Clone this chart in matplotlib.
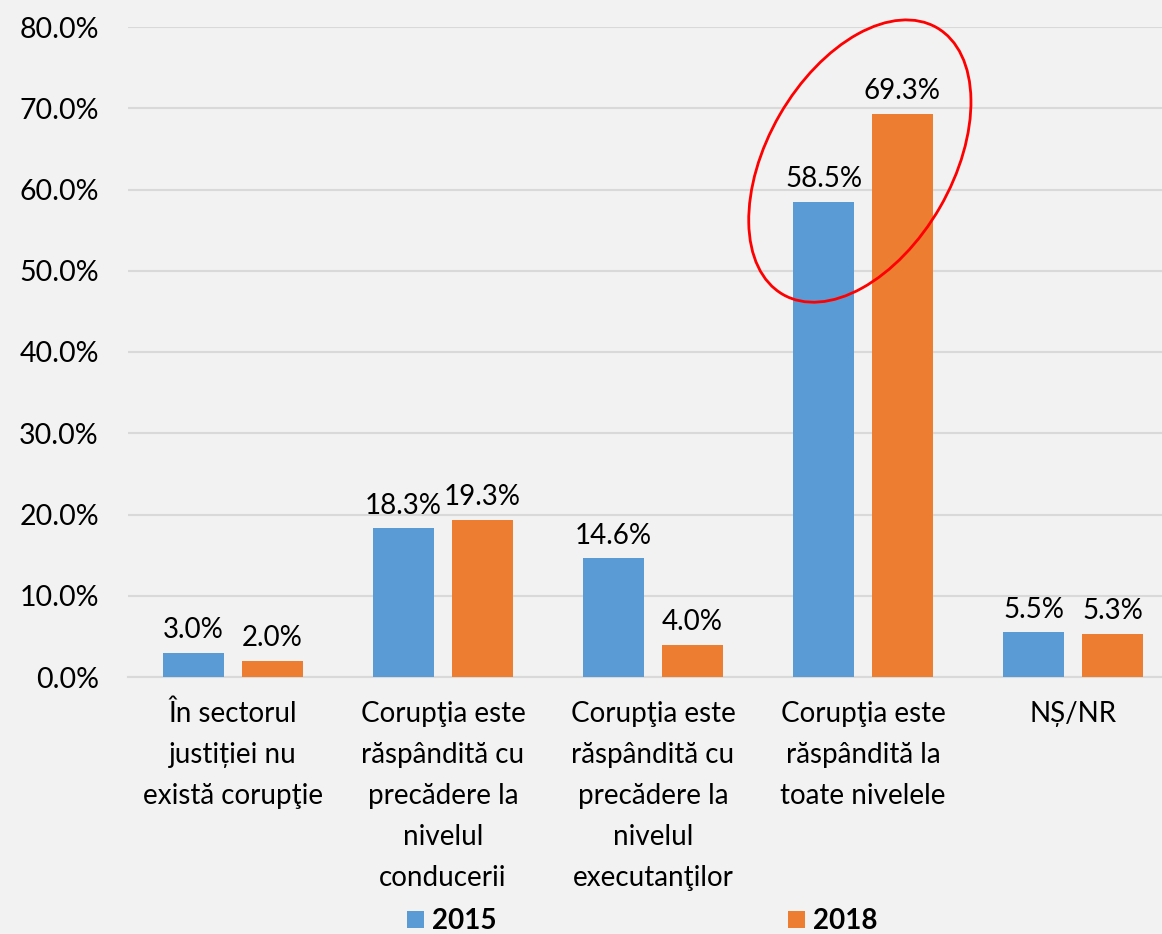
import numpy as np
import matplotlib.pyplot as plt
from matplotlib.patches import Ellipse
from matplotlib.transforms import ScaledTranslation

plt.rcParams['font.family'] = ['Lato', 'DejaVu Sans']

categorii = ['În sectorul\njustiției nu\nexistă corupţie',
             'Corupţia este\nrăspândită cu\nprecădere la\nnivelul\nconducerii',
             'Corupţia este\nrăspândită cu\nprecădere la\nnivelul\nexecutanţilor',
             'Corupţia este\nrăspândită la\ntoate nivelele',
             'NȘ/NR']
v2015 = [3.0, 18.3, 14.6, 58.5, 5.5]
v2018 = [2.0, 19.3, 4.0, 69.3, 5.3]
ani = ['2015', '2018']
culori = ['#5B9BD5', '#ED7D31']
bg = '#F2F2F2'

fig = plt.figure(figsize=(11.62, 9.34), dpi=100, facecolor=bg)
ax = fig.add_axes([128/1162, 257/934, 1050/1162, 650/934], facecolor=bg)

x = np.arange(len(categorii))
w = 0.295
off = 0.188
b1 = ax.bar(x - off, v2015, w, color=culori[0], label=ani[0], zorder=3)
b2 = ax.bar(x + off, v2018, w, color=culori[1], label=ani[1], zorder=3)
for bars in (b1, b2):
    ax.bar_label(bars, labels=[f'{v:.1f}%' for v in bars.datavalues],
                 padding=7, fontsize=20)

ax.set_xlim(-0.5, len(categorii) - 0.5)
ax.set_ylim(0, 80)
ax.set_yticks(np.arange(0, 81, 10))
ax.set_yticklabels([f'{t:.1f}%' for t in np.arange(0, 81, 10)], fontsize=20.5)
ax.set_xticks(x)
ax.set_xticklabels(categorii, fontsize=20, linespacing=1.72, va='top')
ax.tick_params(axis='both', length=0)
ax.tick_params(axis='x', pad=17)
ax.tick_params(axis='y', pad=21)
ax.grid(axis='y', color='#D9D9D9', linewidth=1.5, zorder=0)
for s in ['top', 'right', 'left']:
    ax.spines[s].set_visible(False)
ax.spines['bottom'].set_color('#D9D9D9')
ax.spines['bottom'].set_linewidth(1.5)

# elipsa rosie in jurul grupului "toate nivelele"
tr = fig.dpi_scale_trans + ScaledTranslation(3 - 0.015, 63.5, ax.transData)
ell = Ellipse((0, 0), 3.08, 1.85, angle=60, transform=tr, clip_on=False,
              fill=False, edgecolor='#FF0000', linewidth=2, zorder=5)
ax.add_artist(ell)

leg = fig.legend(handles=[b1, b2], loc='lower center', ncol=2,
                 bbox_to_anchor=(0.553, -0.027), frameon=False,
                 prop={'weight': 'bold', 'size': 20},
                 handlelength=0.6, handleheight=0.6, handletextpad=0.3,
                 columnspacing=10.5)

fig.savefig('out.png', dpi=100, facecolor=bg)
